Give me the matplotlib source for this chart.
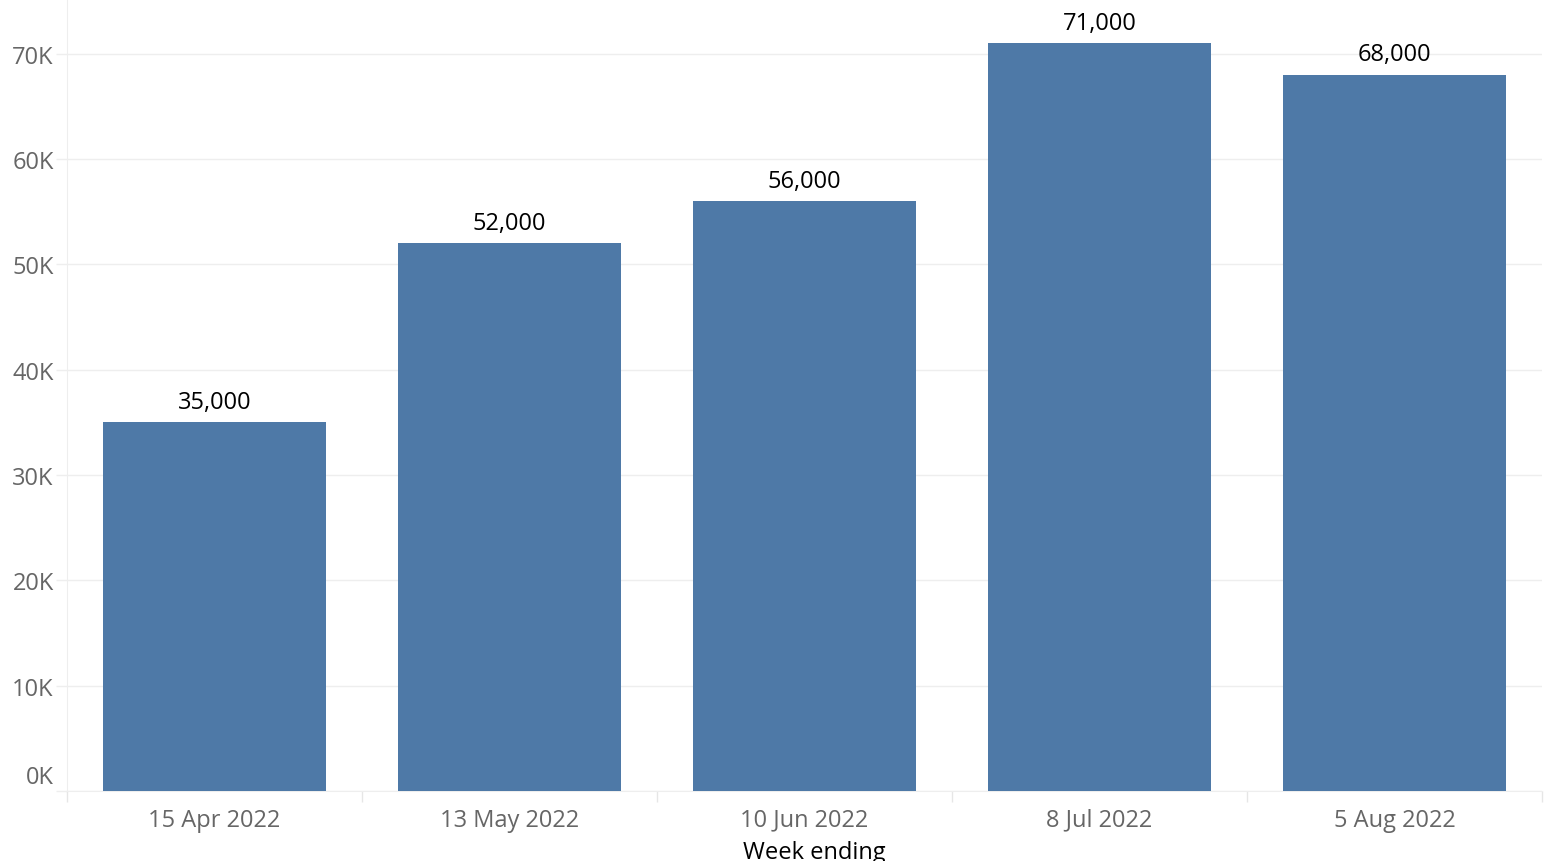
import matplotlib
matplotlib.use("Agg")
import matplotlib.pyplot as plt
import matplotlib.transforms as mtransforms

weeks = ["15 Apr 2022", "13 May 2022", "10 Jun 2022", "8 Jul 2022", "5 Aug 2022"]
values = [35000, 52000, 56000, 71000, 68000]
y_ticks = [0, 10000, 20000, 30000, 40000, 50000, 60000, 70000]
y_tick_labels = ["0K", "10K", "20K", "30K", "40K", "50K", "60K", "70K"]

plt.rcParams['font.family'] = ['Open Sans', 'DejaVu Sans']

W, H = 1552, 862
fig = plt.figure(figsize=(W / 100, H / 100), dpi=100)
left, right, top, bottom = 67, 1542, 0, 792
ax = fig.add_axes([left / W, (H - bottom) / H, (right - left) / W, (bottom - top) / H])

x = list(range(len(weeks)))
ax.bar(x, values, width=0.756, color="#4e79a7", zorder=3)
ax.set_xlim(-0.5, len(weeks) - 0.5)
ax.set_ylim(0, 75200)

for xi, v in zip(x, values):
    ax.annotate(f"{v:,}", (xi, v), xytext=(0, 6), textcoords="offset points",
                ha="center", va="bottom", fontsize=17, color="black", zorder=4)

ax.set_yticks(y_ticks)
ax.set_yticklabels(y_tick_labels)
ax.set_xticks(x)
ax.set_xticklabels(weeks)
ax.set_xticks([i - 0.5 for i in range(len(weeks) + 1)], minor=True)

ax.tick_params(axis="y", length=8, width=1, color="#eeeeee", labelsize=17,
               labelcolor="#666666", pad=1.5)
ax.tick_params(axis="x", which="major", length=0, labelsize=17,
               labelcolor="#666666", pad=12)
ax.tick_params(axis="x", which="minor", length=8, width=1, color="#e6e6e6")

# shift the 0K label up, as in the reference
lab0 = ax.get_yticklabels()[0]
lab0.set_transform(lab0.get_transform() + mtransforms.ScaledTranslation(0, 17 / 100, fig.dpi_scale_trans))

ax.grid(axis="y", color="#eeeeee", linewidth=1, zorder=0)
for s in ["top", "right"]:
    ax.spines[s].set_visible(False)
ax.spines["left"].set_color("#eeeeee")
ax.spines["bottom"].set_color("#eeeeee")

fig.text(814 / W, 1 - 853 / H, "Week ending", ha="center", va="center",
         fontsize=17, color="black")

fig.savefig("out.png", dpi=100)
